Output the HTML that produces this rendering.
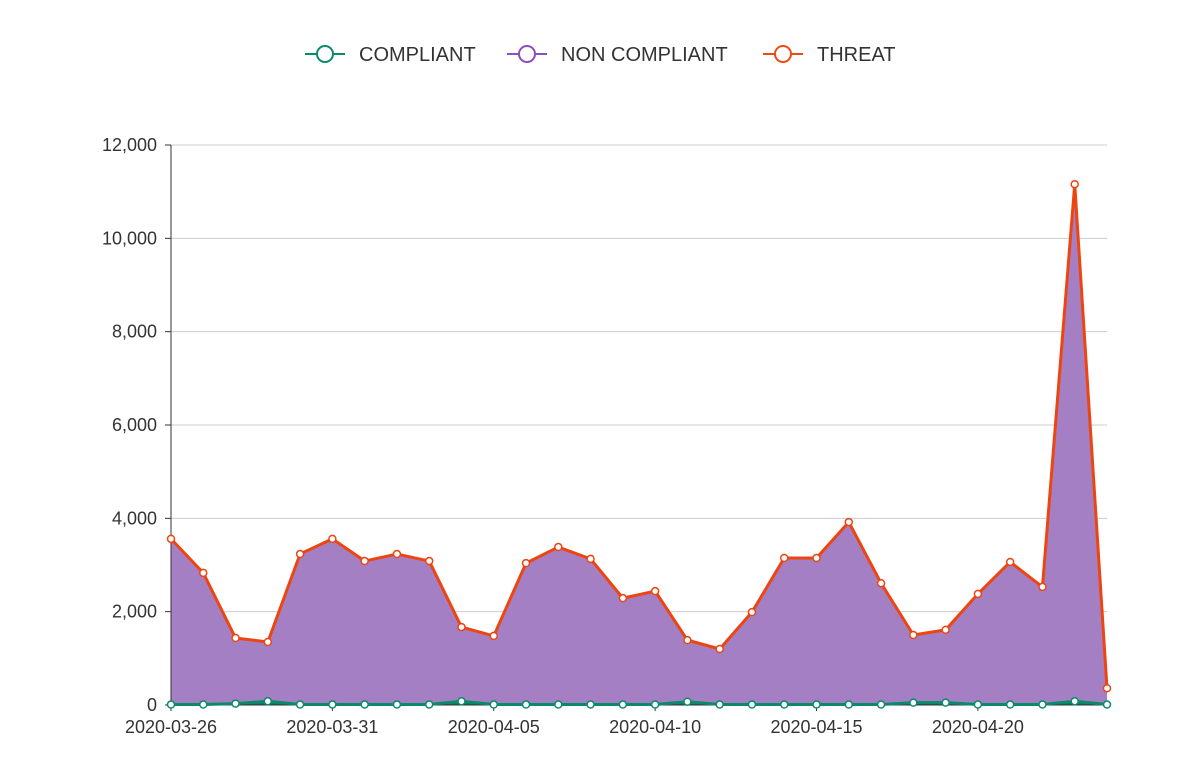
<!DOCTYPE html>
<html><head><meta charset="utf-8"><style>
body{margin:0;background:#fff;font-family:"Liberation Sans",Helvetica,Arial,sans-serif}
svg text{font-family:"Liberation Sans",Helvetica,Arial,sans-serif;fill:#333}
</style></head><body>
<svg id="chart" width="1200" height="776" xmlns="http://www.w3.org/2000/svg">
<g id="legend">
 <g><line x1="305" y1="54" x2="345" y2="54" stroke="#0a8a6a" stroke-width="2"/><circle cx="325" cy="54" r="8" fill="#fff" stroke="#0a8a6a" stroke-width="2"/><text x="359" y="61" font-size="20">COMPLIANT</text></g>
 <g><line x1="507" y1="54" x2="547" y2="54" stroke="#8a4fbe" stroke-width="2"/><circle cx="527" cy="54" r="8" fill="#fff" stroke="#8a4fbe" stroke-width="2"/><text x="561" y="61" font-size="20">NON COMPLIANT</text></g>
 <g><line x1="763" y1="54" x2="803" y2="54" stroke="#f04a14" stroke-width="2"/><circle cx="783" cy="54" r="8" fill="#fff" stroke="#f04a14" stroke-width="2"/><text x="817" y="61" font-size="20">THREAT</text></g>
</g>
<g id="grid"></g><g id="areas"></g><g id="axes"></g><g id="marks"></g>
</svg>
<script>
const dates=[];(function(){const d=new Date(Date.UTC(2020,2,26));for(let i=0;i<30;i++){dates.push(new Date(d.getTime()+i*864e5).toISOString().slice(0,10));}})();
const compliant=[10,10,30,80,10,10,10,10,10,80,10,10,10,10,10,10,70,10,10,10,10,10,10,50,50,10,10,10,80,10];
const nonCompliant=[3545,2815,1400,1265,3220,3545,3070,3220,3070,1585,1465,3025,3370,3115,2275,2425,1315,1185,1975,3135,3135,3905,2595,1445,1555,2365,3050,2515,11075,345];
const threat=[5,5,5,5,5,5,5,5,5,5,5,5,5,5,5,5,5,5,5,5,5,5,5,5,5,5,5,5,5,5];
const yTicks=[0,2000,4000,6000,8000,10000,12000];
const xTickIdx=[0,5,10,15,20,25];
const NS="http://www.w3.org/2000/svg";
const X0=171,X1=1107,Y0=705,Y1=145,YMAX=12000;
const x=i=>X0+i*(X1-X0)/(dates.length-1);
const y=v=>Y0-v*(Y0-Y1)/YMAX;
function mk(t,a,p){const e=document.createElementNS(NS,t);for(const k in a)e.setAttribute(k,a[k]);p.appendChild(e);return e;}
const grid=document.getElementById('grid'),axes=document.getElementById('axes'),areas=document.getElementById('areas'),marks=document.getElementById('marks');
yTicks.forEach(v=>{
 const l=mk('line',{x1:X0,x2:X1,y1:y(v),y2:y(v),stroke:'#ccc','stroke-width':1},grid);
 
 
 const tk=mk('line',{x1:X0-6,x2:X0,y1:y(v),y2:y(v),stroke:'#333'},axes);
 
 
 const t=mk('text',{x:X0-14,y:y(v)+6,'text-anchor':'end','font-size':18},axes);
 t.textContent=v.toLocaleString('en-US');
 
 
});
const c1=compliant,c2=compliant.map((v,i)=>v+nonCompliant[i]),c3=c2.map((v,i)=>v+threat[i]);
function areaPath(lo,hi){let d='M'+x(0)+','+y(hi[0]);for(let i=1;i<hi.length;i++)d+='L'+x(i)+','+y(hi[i]);for(let i=lo.length-1;i>=0;i--)d+='L'+x(i)+','+y(lo[i]);return d+'Z';}
function linePath(a){return a.map((v,i)=>(i?'L':'M')+x(i)+','+y(v)).join('');}
const zero=compliant.map(()=>0);
let a=mk('path',{d:areaPath(c1,c2),fill:'#a57fc3'},areas);


a=mk('path',{d:areaPath(c2,c3),fill:'#a57fc3'},areas);


a=mk('path',{d:areaPath(zero,c1),fill:'#0a7a5e'},areas);


const ax=mk('line',{x1:X0,x2:X0,y1:Y1,y2:Y0,stroke:'#333'},axes);


const xa=mk('line',{x1:X0-6,x2:X1,y1:Y0,y2:Y0,stroke:'#333'},axes);


xTickIdx.forEach(i=>{
 const tk=mk('line',{x1:x(i),x2:x(i),y1:Y0,y2:Y0+6,stroke:'#333'},axes);
 
 
 const t=mk('text',{x:x(i),y:Y0+28,'text-anchor':'middle','font-size':18},axes);
 t.textContent=dates[i];
 
 
});
let l=mk('path',{d:linePath(c3),fill:'none',stroke:'#ee4510','stroke-width':3,'stroke-linejoin':'round'},marks);


l=mk('path',{d:linePath(c1),fill:'none',stroke:'#0a8a6a','stroke-width':3},marks);


c3.forEach((v,i)=>{const p=mk('circle',{cx:x(i),cy:y(v),r:3.5,fill:'#fff',stroke:'#ee4510','stroke-width':1.5},marks);
 
 });
c1.forEach((v,i)=>{const p=mk('circle',{cx:x(i),cy:y(v),r:3.5,fill:'#fff',stroke:'#0a8a6a','stroke-width':1.5},marks);
 
 });
</script>
</body></html>
